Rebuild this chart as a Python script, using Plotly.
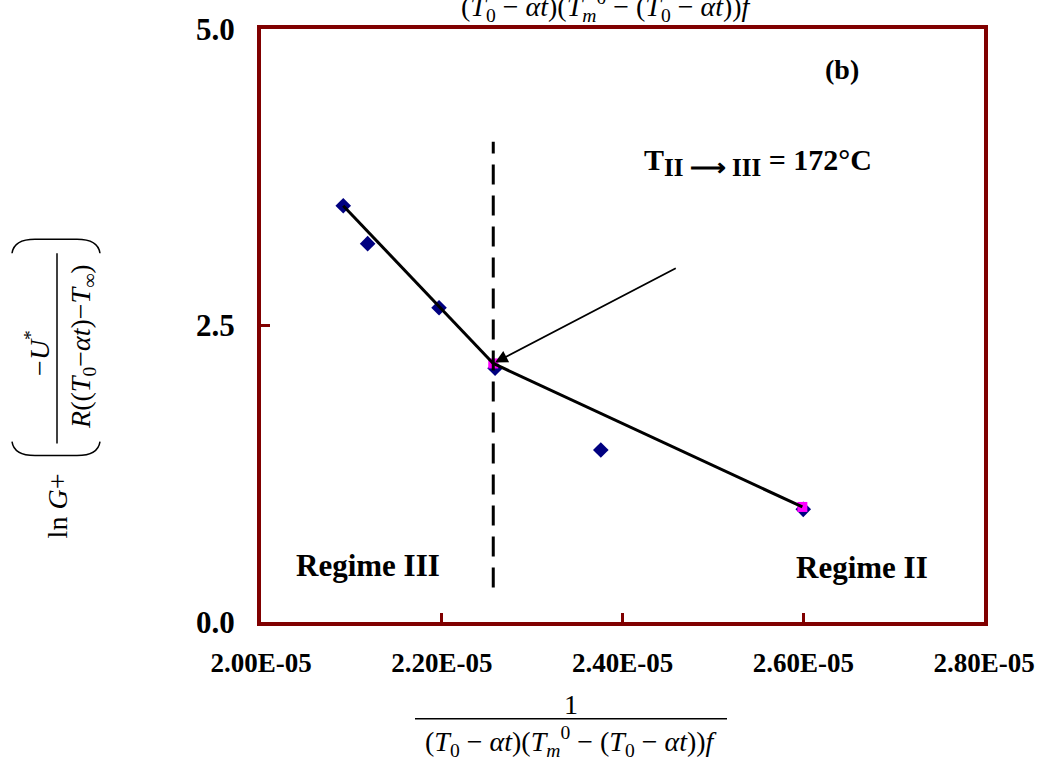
import plotly.graph_objects as go

# ---------------- data ----------------
x_points = [2.091e-5, 2.118e-5, 2.197e-5, 2.259e-5, 2.376e-5, 2.600e-5]
y_points = [3.51, 3.19, 2.65, 2.14, 1.45, 0.95]

x_break = [2.257e-5, 2.599e-5]
y_break = [2.18, 0.97]

x_fit3 = [2.091e-5, 2.257e-5]
y_fit3 = [3.51, 2.18]
x_fit2 = [2.257e-5, 2.599e-5]
y_fit2 = [2.18, 0.97]

x_transition = [2.257e-5, 2.257e-5]
y_transition = [0.29, 4.05]

x_tickvals = [2.0e-5, 2.2e-5, 2.4e-5, 2.6e-5, 2.8e-5]
x_ticktext = ["2.00E-05", "2.20E-05", "2.40E-05", "2.60E-05", "2.80E-05"]
y_tickvals = [0.0, 2.5, 5.0]
y_ticktext = ["0.0", "2.5", "5.0"]

# ---------------- layout geometry ----------------
W, H = 1051, 769
L, R, T, B = 261, 67, 27, 147
PW, PH = W - L - R, H - T - B

def px(xp):
    return (xp - L) / PW

def py(yp):
    return (H - B - yp) / PH

SERIF = "Liberation Serif, Times New Roman, serif"
BLACK = "black"

fig = go.Figure()

fig.add_trace(go.Scatter(x=x_points, y=y_points, mode="markers",
                         marker=dict(symbol="diamond", size=12, color="#000080"),
                         showlegend=False, hoverinfo="skip"))
fig.add_trace(go.Scatter(x=x_break, y=y_break, mode="markers",
                         marker=dict(symbol="square", size=10, color="#FF00FF"),
                         showlegend=False, hoverinfo="skip"))
fig.add_trace(go.Scatter(x=x_fit3, y=y_fit3, mode="lines",
                         line=dict(color=BLACK, width=3),
                         showlegend=False, hoverinfo="skip"))
fig.add_trace(go.Scatter(x=x_fit2, y=y_fit2, mode="lines",
                         line=dict(color=BLACK, width=3),
                         showlegend=False, hoverinfo="skip"))
fig.add_trace(go.Scatter(x=x_transition, y=y_transition, mode="lines",
                         line=dict(color=BLACK, width=3, dash="20px,11px"),
                         showlegend=False, hoverinfo="skip"))

def note(x, y, text, size=28, xref="paper", yref="paper", angle=0,
         xanchor="center", yanchor="middle"):
    return dict(x=x, y=y, xref=xref, yref=yref, text=text, showarrow=False,
                textangle=angle, xanchor=xanchor, yanchor=yanchor,
                font=dict(family=SERIF, size=size, color=BLACK))

annotations = []
# arrow to the transition point
annotations.append(dict(x=x_break[0], y=y_break[0], xref="x", yref="y",
                        ax=184, ay=-96, text="", showarrow=True,
                        arrowhead=2, arrowsize=1.4, arrowwidth=1.8,
                        arrowcolor=BLACK, standoff=2))
annotations.append(note(2.643e-5, 4.66, "<b>(b)</b>", xref="x", yref="y"))
annotations.append(note(2.422e-5, 3.88,
                        "<b>T<sub><span style='font-size:25px'>II ⟶ III</span></sub> = 172°C</b>",
                        size=30, xref="x", yref="y", xanchor="left"))
annotations.append(note(2.118e-5, 0.48, "<b>Regime III</b>", size=31, xref="x", yref="y"))
annotations.append(note(2.665e-5, 0.46, "<b>Regime II</b>", size=31, xref="x", yref="y"))

denom = ("(<i>T</i><sub>0</sub> − <i>αt</i>)(<i>T</i><sub><i>m</i></sub><sup>0</sup> − "
         "(<i>T</i><sub>0</sub> − <i>αt</i>))<i>f</i>")
# x-axis title (fraction)
annotations.append(note(px(571), py(705), "1"))
annotations.append(note(px(571), py(742), denom))
# copy clipped at the top edge, as in the reference
annotations.append(note(px(607), py(26), denom, yanchor="bottom"))

# y-axis title (rotated fraction)
annotations.append(note(px(38), py(352), "−<i>U</i><sup>*</sup>", size=28, angle=-90))
annotations.append(note(px(83), py(346),
                        "<i>R</i>((<i>T</i><sub>0</sub>−<i>αt</i>)−<i>T</i><sub>∞</sub>)",
                        size=28, angle=-90))
annotations.append(note(px(57), py(506), "ln <i>G</i>+", size=28, angle=-90))

def path_px(cmds):
    out = []
    for cmd, pts in cmds:
        coords = " ".join(f"{px(a):.5f},{py(b):.5f}" for a, b in pts)
        out.append(f"{cmd} {coords}")
    return " ".join(out)

shapes = []
# fraction bars
shapes.append(dict(type="line", xref="paper", yref="paper",
                   x0=px(415), x1=px(727), y0=py(719), y1=py(719),
                   line=dict(color=BLACK, width=1.5)))
shapes.append(dict(type="line", xref="paper", yref="paper",
                   x0=px(57), x1=px(57), y0=py(252), y1=py(443),
                   line=dict(color=BLACK, width=1.5)))
# large brackets around the fraction in the y label
shapes.append(dict(type="path", xref="paper", yref="paper",
                   path=path_px([("M", [(12, 441)]), ("Q", [(14, 455), (35, 455)]),
                                 ("L", [(77, 455)]), ("Q", [(98, 455), (100, 441)])]),
                   line=dict(color=BLACK, width=1.5)))
shapes.append(dict(type="path", xref="paper", yref="paper",
                   path=path_px([("M", [(12, 252)]), ("Q", [(14, 238), (35, 238)]),
                                 ("L", [(77, 238)]), ("Q", [(98, 238), (100, 252)])]),
                   line=dict(color=BLACK, width=1.5)))

axis_common = dict(showgrid=False, zeroline=False, showline=True, mirror=True,
                   linecolor="#800000", linewidth=4, ticks="inside", ticklen=9,
                   tickwidth=2.5, tickcolor="#800000")

fig.update_layout(
    width=W, height=H,
    margin=dict(l=L, r=R, t=T, b=B),
    paper_bgcolor="white", plot_bgcolor="white",
    xaxis=dict(range=[2.0e-5, 2.8e-5], tickvals=x_tickvals,
               ticktext=[f"<b>{t}</b>" for t in x_ticktext],
               ticklabelstandoff=14,
               tickfont=dict(family=SERIF, size=27, color=BLACK), **axis_common),
    yaxis=dict(range=[0, 5], tickvals=y_tickvals,
               ticktext=[f"<b>{t}</b>" for t in y_ticktext],
               ticklabelstandoff=16,
               tickfont=dict(family=SERIF, size=31, color=BLACK), **axis_common),
    annotations=annotations, shapes=shapes,
)

fig.write_html("out.html", config={"displayModeBar": False},
               post_script="document.body.style.margin='0';document.body.style.overflow='hidden';")
